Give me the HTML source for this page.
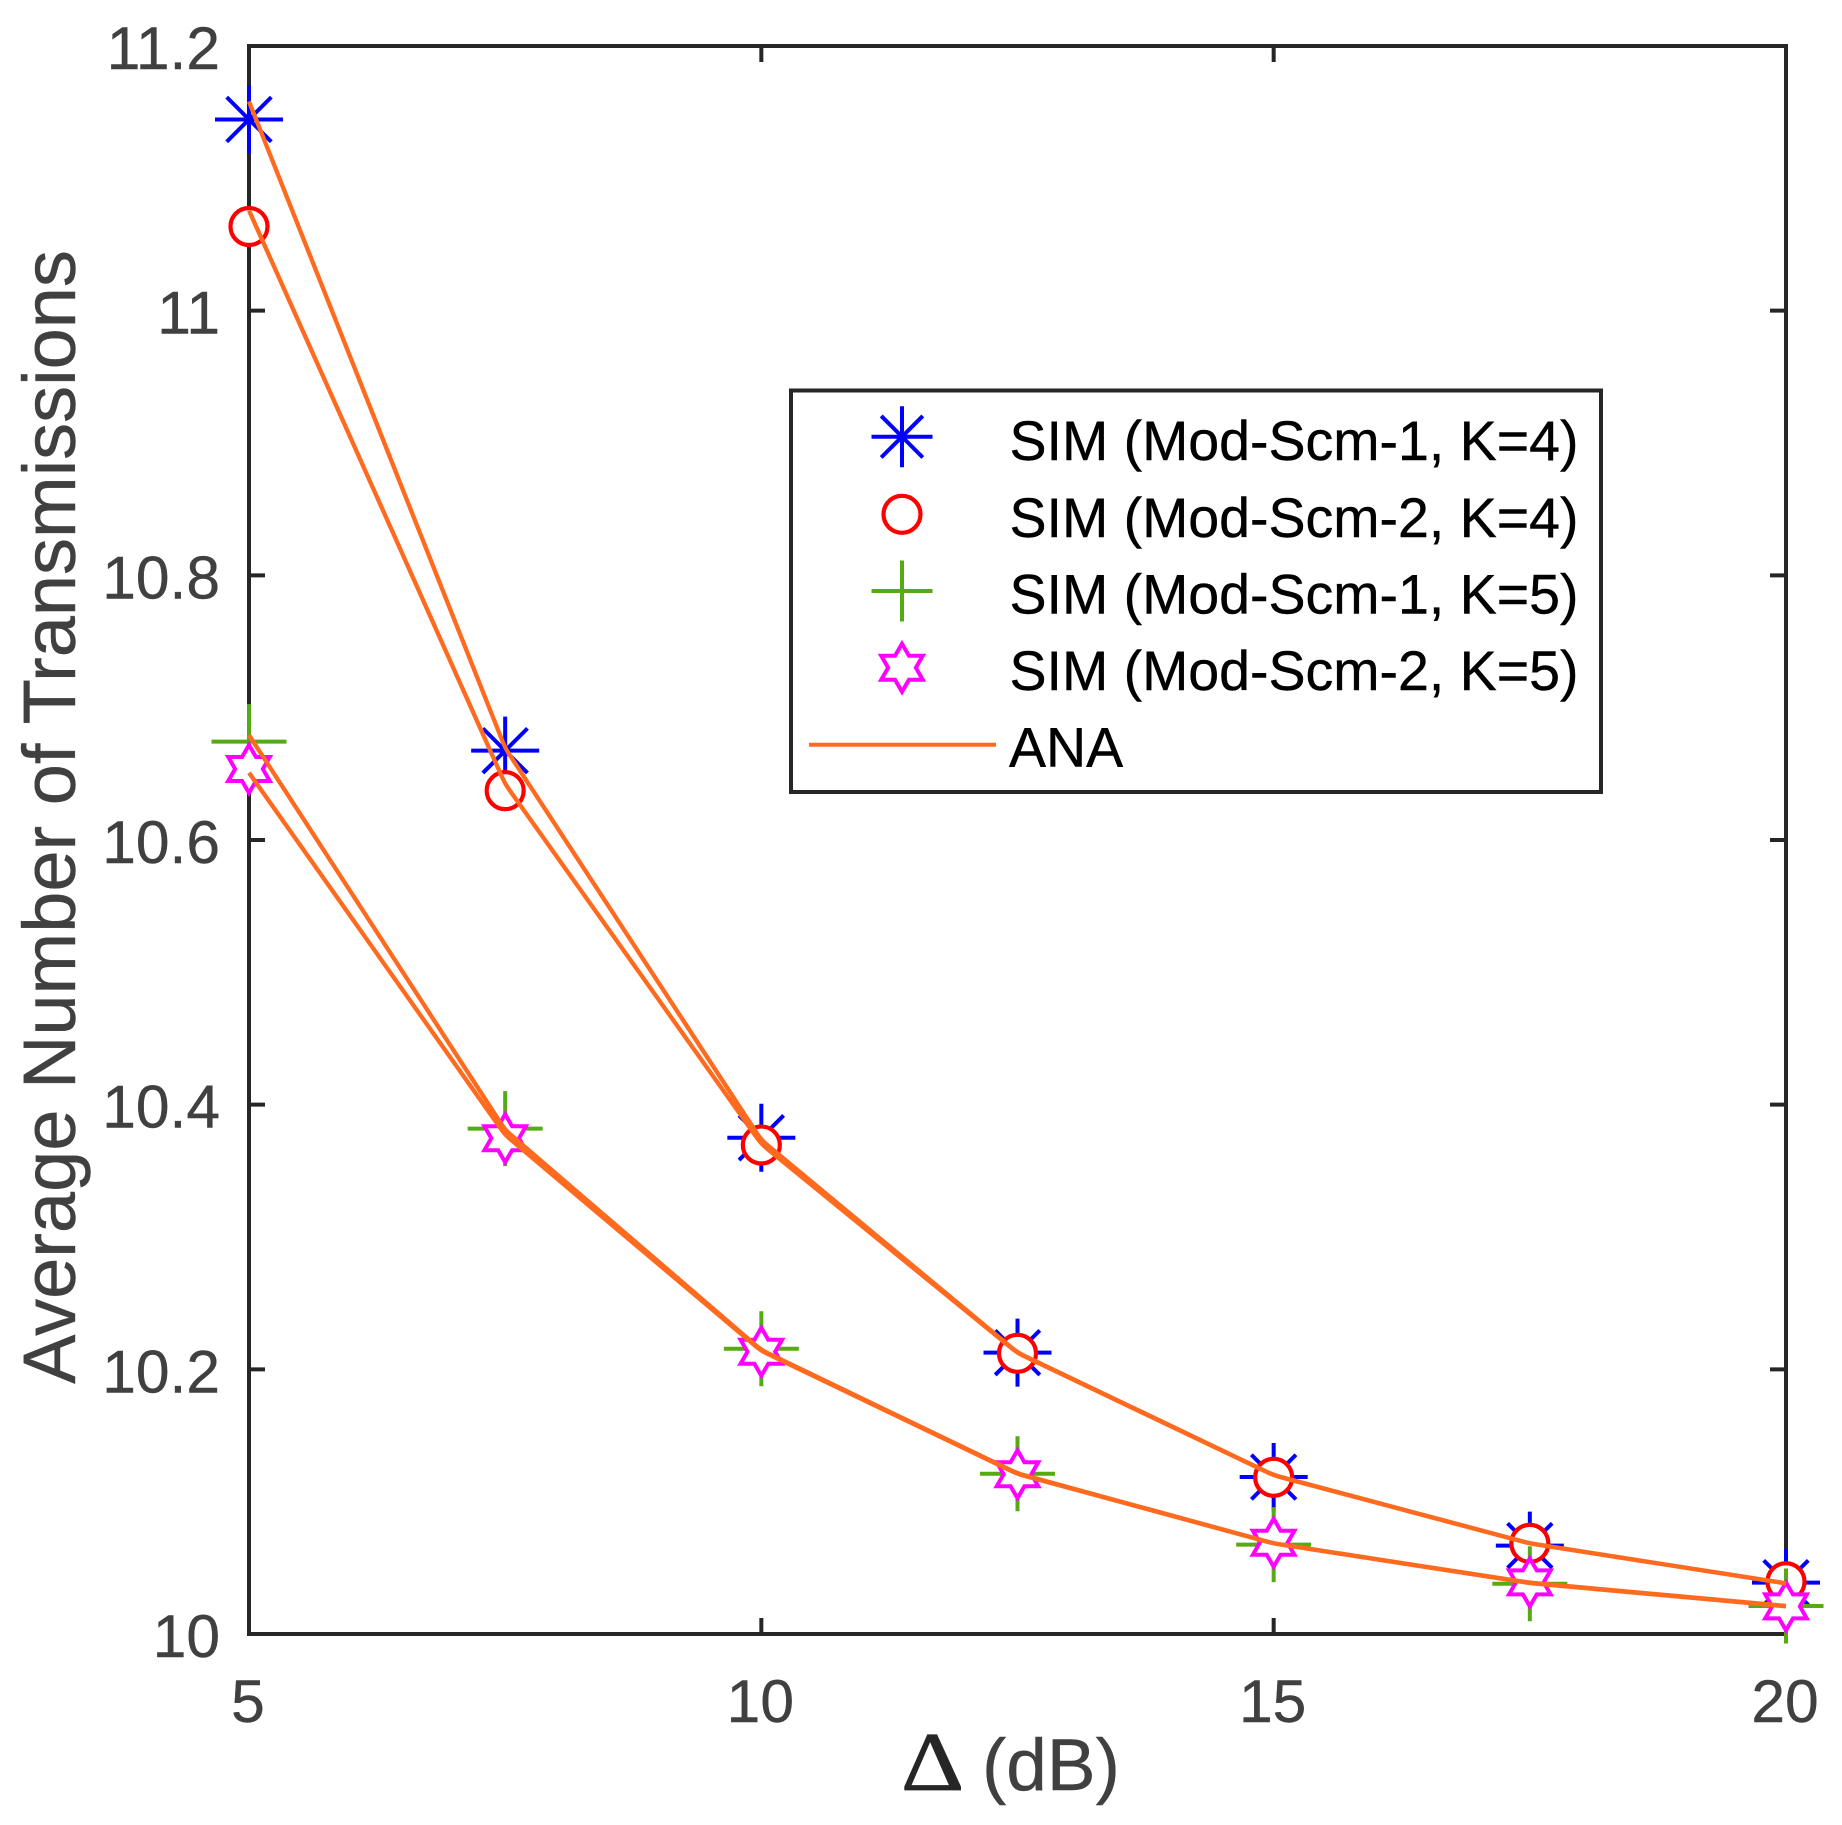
<!DOCTYPE html>
<html lang="en">
<head>
<meta charset="utf-8">
<title>Average Number of Transmissions vs Delta</title>
<style>
html,body{margin:0;padding:0;background:#fff;width:1842px;height:1825px;overflow:hidden}
svg{display:block;font-family:"Liberation Sans",Arial,sans-serif}
</style>
</head>
<body>
<svg id="chart" width="1842" height="1825" viewBox="0 0 1842 1825" xmlns="http://www.w3.org/2000/svg">
  <rect x="0" y="0" width="1842" height="1825" fill="#fff"/>
  <g id="axes"></g>
  <g id="markers"></g>
  <g id="lines"></g>
  <text transform="translate(901 1790) scale(1.17 1)" x="0" y="0" font-family="'Liberation Serif',serif" font-size="84" fill="#262626" stroke="#262626" stroke-width="0.8">&#916;</text>
  <text x="982" y="1790" font-size="73" fill="#404040" stroke="#404040" stroke-width="0.4">(dB)</text>
  <text transform="translate(75 817) rotate(-90)" text-anchor="middle" font-size="74" fill="#404040" stroke="#404040" stroke-width="0.4">Average Number of Transmissions</text>
  <g id="legend">
    <rect x="791" y="390.5" width="810" height="401.5" fill="#fff" stroke="#262626" stroke-width="4"/>
    <g id="legend-icons"></g>
    <text x="1009.5" y="460" font-size="55.5" fill="#000" stroke="#000" stroke-width="0.4">SIM (Mod-Scm-1, K=4)</text>
    <text x="1009.5" y="537" font-size="55.5" fill="#000" stroke="#000" stroke-width="0.4">SIM (Mod-Scm-2, K=4)</text>
    <text x="1009.5" y="613.5" font-size="55.5" fill="#000" stroke="#000" stroke-width="0.4">SIM (Mod-Scm-1, K=5)</text>
    <text x="1009.5" y="690" font-size="55.5" fill="#000" stroke="#000" stroke-width="0.4">SIM (Mod-Scm-2, K=5)</text>
    <text x="1009" y="766.5" font-size="55.5" fill="#000" stroke="#000" stroke-width="0.4">ANA</text>
  </g>
</svg>
<script>
// ---- chart data ----
const deltaDb = [5, 7.5, 10, 12.5, 15, 17.5, 20];
const simScm1K4 = [11.1445, 10.6675, 10.375, 10.2126, 10.1186, 10.0668, 10.0388];
const simScm2K4 = [11.0636, 10.6373, 10.3695, 10.2121, 10.1184, 10.0685, 10.0395];
const simScm1K5 = [10.6743, 10.3819, 10.2156, 10.1211, 10.0675, 10.038, 10.0212];
const simScm2K5 = [10.6537, 10.3746, 10.2133, 10.1207, 10.069, 10.039, 10.0209];
const anaScm1K4 = [11.1581, 10.6695, 10.3733, 10.2127, 10.1201, 10.0685, 10.0383];
const anaScm2K4 = [11.0757, 10.6423, 10.3703, 10.2123, 10.1199, 10.0684, 10.0382];
const anaScm1K5 = [10.6793, 10.3809, 10.2146, 10.1214, 10.0685, 10.0388, 10.0212];
const anaScm2K5 = [10.6508, 10.3771, 10.2139, 10.1209, 10.0684, 10.0385, 10.0209];
const xTickValues = [5, 10, 15, 20];
const xTickLabels = ['5', '10', '15', '20'];
const yTickValues = [10, 10.2, 10.4, 10.6, 10.8, 11, 11.2];
const yTickLabels = ['10', '10.2', '10.4', '10.6', '10.8', '11', '11.2'];

// ---- axis functions ----
const NS = 'http://www.w3.org/2000/svg';
const plotLeft = 249, plotRight = 1786, plotTop = 46, plotBottom = 1634;
const xMin = 5, xMax = 20, yMin = 10, yMax = 11.2;
function xScale(v) { return plotLeft + (v - xMin) / (xMax - xMin) * (plotRight - plotLeft); }
function yScale(v) { return plotBottom - (v - yMin) / (yMax - yMin) * (plotBottom - plotTop); }

const BLUE = '#0000ff', RED = '#ff0000', GREEN = '#56aa14', MAGENTA = '#ff00ff', ORANGE = '#ff6a1f', AXIS = '#262626', LABEL = '#404040';

function make(tag, attrs, parent) {
  const el = document.createElementNS(NS, tag);
  for (const k in attrs) el.setAttribute(k, attrs[k]);
  parent.appendChild(el);
  return el;
}

function drawAsterisk(parent, cx, cy, r, d) {
  const p = 'M' + (cx - r) + ' ' + cy + 'H' + (cx + r) +
    'M' + cx + ' ' + (cy - r) + 'V' + (cy + r) +
    'M' + (cx - d) + ' ' + (cy - d) + 'L' + (cx + d) + ' ' + (cy + d) +
    'M' + (cx - d) + ' ' + (cy + d) + 'L' + (cx + d) + ' ' + (cy - d);
  return make('path', { d: p, fill: 'none', stroke: BLUE, 'stroke-width': 4 }, parent);
}
function drawCircle(parent, cx, cy) {
  return make('circle', { cx: cx, cy: cy, r: 18.5, fill: '#fff', stroke: RED, 'stroke-width': 4.2 }, parent);
}
function drawPlus(parent, cx, cy, r) {
  const p = 'M' + (cx - r) + ' ' + cy + 'H' + (cx + r) + 'M' + cx + ' ' + (cy - r) + 'V' + (cy + r);
  return make('path', { d: p, fill: 'none', stroke: GREEN, 'stroke-width': 4 }, parent);
}
function drawStar(parent, cx, cy) {
  const R = 24, r = R / Math.sqrt(3);
  let pts = [];
  for (let i = 0; i < 12; i++) {
    const rad = i % 2 === 0 ? R : r;
    const a = -Math.PI / 2 + i * Math.PI / 6;
    pts.push((cx + rad * Math.cos(a)).toFixed(2) + ',' + (cy + rad * Math.sin(a)).toFixed(2));
  }
  return make('polygon', { points: pts.join(' '), fill: '#fff', stroke: MAGENTA, 'stroke-width': 4, 'stroke-miterlimit': 10 }, parent);
}
function smoothPath(xs, ys) {
  const pts = xs.map(function (x, i) { return [xScale(x), yScale(ys[i])]; });
  const rr = 7;
  let d = 'M' + pts[0][0].toFixed(2) + ' ' + pts[0][1].toFixed(2);
  for (let i = 1; i < pts.length - 1; i++) {
    const a = pts[i - 1], b = pts[i], c = pts[i + 1];
    const l1 = Math.hypot(b[0] - a[0], b[1] - a[1]), l2 = Math.hypot(c[0] - b[0], c[1] - b[1]);
    const p1 = [b[0] + (a[0] - b[0]) * rr / l1, b[1] + (a[1] - b[1]) * rr / l1];
    const p2 = [b[0] + (c[0] - b[0]) * rr / l2, b[1] + (c[1] - b[1]) * rr / l2];
    d += 'L' + p1[0].toFixed(2) + ' ' + p1[1].toFixed(2) + 'Q' + b[0].toFixed(2) + ' ' + b[1].toFixed(2) + ' ' + p2[0].toFixed(2) + ' ' + p2[1].toFixed(2);
  }
  const e = pts[pts.length - 1];
  d += 'L' + e[0].toFixed(2) + ' ' + e[1].toFixed(2);
  return d;
}

// ---- axes ----
const axesG = document.getElementById('axes');
const frame = make('rect', { x: plotLeft, y: plotTop, width: plotRight - plotLeft, height: plotBottom - plotTop, fill: 'none', stroke: AXIS, 'stroke-width': 4 }, axesG);



xTickValues.forEach(function (v, i) {
  const x = xScale(v);
  const t = make('path', { d: 'M' + x + ' ' + plotBottom + 'v-16M' + x + ' ' + plotTop + 'v16', stroke: AXIS, 'stroke-width': 4, fill: 'none' }, axesG);
  
  
  const l = make('text', { x: x - 1, y: 1722, 'text-anchor': 'middle', 'font-size': 60.5, fill: LABEL, stroke: LABEL, 'stroke-width': 0.4 }, axesG);
  l.textContent = xTickLabels[i];
  
  
});
yTickValues.forEach(function (v, i) {
  const y = yScale(v);
  const t = make('path', { d: 'M' + plotLeft + ' ' + y + 'h16M' + plotRight + ' ' + y + 'h-16', stroke: AXIS, 'stroke-width': 4, fill: 'none' }, axesG);
  
  
  const l = make('text', { x: 220, y: y + 23, 'text-anchor': 'end', 'font-size': 60.5, fill: LABEL, stroke: LABEL, 'stroke-width': 0.4 }, axesG);
  l.textContent = yTickLabels[i];
  
  
});

// ---- markers ----
const markersG = document.getElementById('markers');
deltaDb.forEach(function (x, i) {
  const m = drawAsterisk(markersG, xScale(x), yScale(simScm1K4[i]), 34, 22.3);
  
  
});
deltaDb.forEach(function (x, i) {
  const m = drawCircle(markersG, xScale(x), yScale(simScm2K4[i]));
  
  
});
deltaDb.forEach(function (x, i) {
  const m = drawPlus(markersG, xScale(x), yScale(simScm1K5[i]), 37.5);
  
  
});
deltaDb.forEach(function (x, i) {
  const m = drawStar(markersG, xScale(x), yScale(simScm2K5[i]));
  
  
});

// ---- analytic lines ----
const linesG = document.getElementById('lines');
[anaScm1K4, anaScm2K4, anaScm1K5, anaScm2K5].forEach(function (series) {
  const p = make('path', { d: smoothPath(deltaDb, series), fill: 'none', stroke: ORANGE, 'stroke-width': 4.3 }, linesG);
  
  
});

// ---- legend icons ----
const iconsG = document.getElementById('legend-icons');
const i1 = drawAsterisk(iconsG, 902, 436.7, 30.5, 20.8);


const i2 = drawCircle(iconsG, 902, 514.3);


const i3 = drawPlus(iconsG, 902, 591, 30.5);


const i4 = drawStar(iconsG, 902, 667.7);


const i5 = make('line', { x1: 809, y1: 744.7, x2: 996, y2: 744.7, stroke: ORANGE, 'stroke-width': 4 }, iconsG);


</script>
</body>
</html>
